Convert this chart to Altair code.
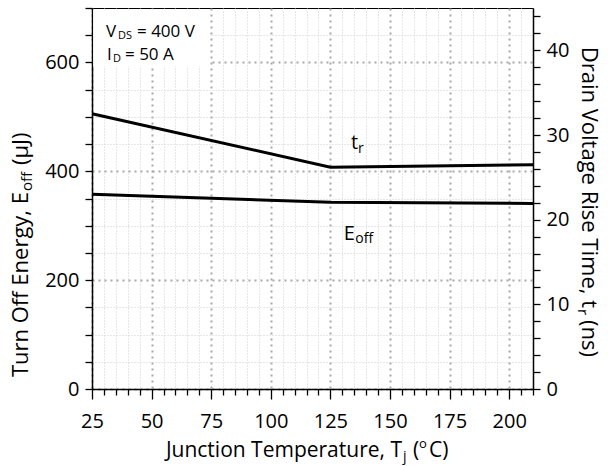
import altair as alt
import pandas as pd

# Junction temperature sweep (degC)
temperature = [25, 125, 210]
# Turn-off energy E_off (uJ) -> left axis
e_off = [358, 343, 341]
# Drain voltage rise time t_r (ns) -> right axis
t_rise = [32.5, 26.2, 26.5]

# Tick positions (minor + major) for each axis
x_ticks = list(range(25, 211, 5))
e_ticks = list(range(0, 701, 50))
t_ticks = list(range(0, 45, 2))

FONT = "Open Sans"
W, H = 441, 381

curves = pd.DataFrame({"T": temperature, "Eoff": e_off, "tr": t_rise})


def cond(test, major, minor):
    return {"condition": {"test": test, "value": major}, "value": minor}


MAJ_X = "datum.value % 25 == 0"
MAJ_E = "datum.value % 200 == 0"

x_scale = alt.Scale(domain=[25, 210], nice=False, zero=False)
e_scale = alt.Scale(domain=[0, 700], nice=False, zero=False)
t_scale = alt.Scale(domain=[0, 45], nice=False, zero=False)

axis_common = dict(
    title=None,
    domainColor="black",
    domainWidth=1.5,
    tickColor="black",
    tickWidth=1.3,
    labelFont=FONT,
    labelFontSize=20,
    labelColor="black",
    labelOverlap=False,
    labelFlush=False,
)

x_axis = alt.Axis(
    values=x_ticks,
    labelExpr=f"{MAJ_X} ? datum.label : ''",
    tickSize=cond(MAJ_X, 10, 6),
    labelPadding=12,
    grid=True,
    gridColor=cond(MAJ_X, "#a8a8a8", "#cfcfcf"),
    gridDash=cond(MAJ_X, [2, 4], [1, 2]),
    gridWidth=cond(MAJ_X, 2, 1),
    **axis_common,
)

e_axis = alt.Axis(
    orient="left",
    values=e_ticks,
    labelExpr=f"{MAJ_E} ? datum.label : ''",
    tickSize=7,
    labelPadding=6,
    grid=True,
    gridColor=cond(MAJ_E, "#a8a8a8", "#cfcfcf"),
    gridDash=cond(MAJ_E, [2, 4], [1, 2]),
    gridWidth=cond(MAJ_E, 2, 1),
    gridOpacity=cond("datum.value >= 700", 0, 1),
    **axis_common,
)

t_axis = alt.Axis(
    orient="right",
    values=t_ticks,
    labelExpr="datum.value % 10 == 0 ? datum.label : ''",
    tickSize=7,
    labelPadding=6,
    grid=False,
    **axis_common,
)

# Blank panel behind the test-condition note
box = pd.DataFrame({"T0": [25.5], "T1": [74.5], "E0": [593], "E1": [697.5]})
box_layer = alt.Chart(box).mark_rect(color="white").encode(
    x=alt.X("T0:Q", scale=x_scale, axis=x_axis),
    x2="T1:Q",
    y=alt.Y("E0:Q", scale=e_scale, axis=e_axis),
    y2="E1:Q",
)

eoff_line = alt.Chart(curves).mark_line(color="black", strokeWidth=3).encode(
    x=alt.X("T:Q", scale=x_scale, axis=x_axis),
    y=alt.Y("Eoff:Q", scale=e_scale, axis=e_axis),
)

eoff_pos = pd.DataFrame({"T": [130.6], "v": [273.7]})
eoff_base = alt.Chart(eoff_pos).encode(
    x=alt.X("T:Q", scale=x_scale, axis=x_axis),
    y=alt.Y("v:Q", scale=e_scale, axis=e_axis),
)
eoff_text = eoff_base.mark_text(
    text="E", font=FONT, fontSize=20, align="left", baseline="alphabetic", color="black"
) + eoff_base.mark_text(
    text="off", font=FONT, fontSize=14, align="left", baseline="alphabetic",
    dx=11.5, dy=3, color="black",
)

left = alt.layer(box_layer, eoff_line, eoff_text)

tr_line = alt.Chart(curves).mark_line(color="black", strokeWidth=3).encode(
    x=alt.X("T:Q", scale=x_scale, axis=x_axis),
    y=alt.Y("tr:Q", scale=t_scale, axis=t_axis),
)

tr_pos = pd.DataFrame({"T": [133.6], "v": [28.3]})
tr_base = alt.Chart(tr_pos).encode(
    x=alt.X("T:Q", scale=x_scale, axis=x_axis),
    y=alt.Y("v:Q", scale=t_scale, axis=t_axis),
)
tr_text = tr_base.mark_text(
    text="t", font=FONT, fontSize=20, align="left", baseline="alphabetic", color="black"
) + tr_base.mark_text(
    text="r", font=FONT, fontSize=14, align="left", baseline="alphabetic",
    dx=7, dy=4, color="black",
)

right = alt.layer(tr_line, tr_text)

one = pd.DataFrame({"k": [0]})


def piece(text, x, y, size, align="left", angle=0):
    return alt.Chart(one).mark_text(
        text=text, font=FONT, fontSize=size, align=align, baseline="alphabetic",
        angle=angle, color="black",
    ).encode(x=alt.value(x), y=alt.value(y))


pieces = [
    # test conditions
    piece("V", 14, 29, 17),
    piece("DS", 26, 31, 11),
    piece("= 400 V", 45, 29, 17),
    piece("I", 15, 52, 17),
    piece("D", 21, 54, 11),
    piece("= 50 A", 33, 52, 17),
    # x-axis title
    piece("Junction Temperature, T", 310, 449, 21, align="right"),
    piece("j", 311, 453, 14),
    piece("(", 321, 449, 21),
    piece("o", 327, 440, 13),
    piece("C)", 337, 449, 21),
    # left axis title
    piece("Turn Off Energy, E", -64, 184, 22, align="right", angle=270),
    piece("off", -60, 183, 15, angle=270),
    piece("(\u00b5J)", -64, 157, 22, angle=270),
    # right axis title
    piece("Drain Voltage Rise Time, t", 490, 300, 22, align="right", angle=90),
    piece("r", 486, 301, 15, angle=90),
    piece("(ns)", 490, 312, 22, angle=90),
]

chart = (
    alt.layer(left, right, *pieces)
    .resolve_scale(y="independent")
    .properties(
        width=W,
        height=H,
        padding={"left": 92, "top": 8, "right": 75, "bottom": 77},
        autosize=alt.AutoSizeParams(type="none"),
        background="white",
    )
    .configure_view(stroke="black", strokeWidth=1)
)

chart.save("out.html", embed_options={"renderer": "svg", "actions": False})
